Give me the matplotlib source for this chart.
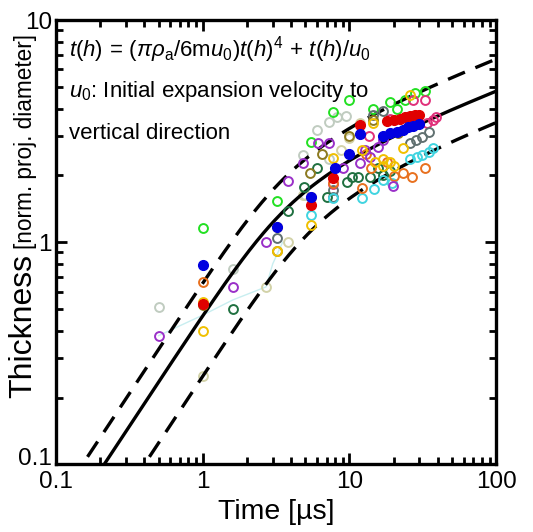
import numpy as np
import matplotlib
matplotlib.use("Agg")
import matplotlib.pyplot as plt
import matplotlib.transforms as mtransforms
from matplotlib.ticker import LogLocator, FuncFormatter, NullFormatter

plt.rcParams['font.family'] = ['Liberation Sans', 'DejaVu Sans']
plt.rcParams['mathtext.fontset'] = 'custom'
plt.rcParams['mathtext.rm'] = 'Liberation Sans'
plt.rcParams['mathtext.it'] = 'Liberation Sans:italic'
plt.rcParams['mathtext.sf'] = 'Liberation Sans'

# ---- model curves: t = a*h^4 + h/u0 ----
curve_u0 = [0.66, 0.47, 0.25]
curve_a = [0.045, 0.17, 0.6]
curve_style = ['--', '-', '--']

# ---- measured data (time [us], thickness) ----
lime_t = [1.0, 3.2, 5.5, 7.7, 9.9, 14.5, 19, 21, 24, 28, 32.5]
lime_h = [1.16, 1.53, 2.82, 3.85, 4.36, 3.98, 4.27, 4.0, 4.36, 4.7, 4.8]

pink_t = [7.7, 13.5, 19, 27, 32.5, 34, 37, 39]
pink_h = [1.84, 3.0, 3.6, 4.36, 4.36, 3.43, 3.55, 3.66]

gray_t = [3.2, 7.7, 7.7, 14.5, 17, 26, 28.4, 31, 34.6]
gray_h = [1.05, 1.72, 1.6, 3.75, 3.9, 2.79, 2.88, 2.97, 3.13]

red_t = [1.0, 5.5, 7.7, 11.8, 18, 20, 22, 24, 26, 28, 30]
red_h = [0.53, 1.47, 1.95, 3.36, 3.5, 3.55, 3.6, 3.65, 3.7, 3.75, 3.75]

blue_t = [1.0, 3.2, 5.5, 8.0, 10.0, 11.8, 17, 19, 21, 23, 25, 27, 30]
blue_h = [0.79, 1.17, 1.6, 2.16, 2.5, 3.08, 3.0, 3.1, 3.15, 3.2, 3.3, 3.35, 3.4]

orange_t = [1.0, 7.7, 12.2, 14, 18, 20, 23, 26.5, 32.5, 13]
orange_h = [0.66, 1.85, 1.75, 2.16, 2.3, 1.99, 2.05, 1.96, 2.16, 2.5]

gold_t = [1.0, 1.0, 3.2, 3.2, 5.5, 5.5, 7.7, 12.2, 15, 17, 19, 23, 26, 17, 20, 14.5]
gold_h = [0.40, 0.54, 0.91, 1.17, 1.2, 1.6, 2.4, 2.6, 2.3, 2.38, 2.3, 2.65, 4.6, 2.2, 2.2, 3.45]

olive_t = [1.0, 3.2, 5.4, 6.5, 9.9, 14.5, 21.5]
olive_h = [0.52, 0.91, 2.05, 2.5, 3.0, 3.55, 3.1]

purple_t = [0.5, 1.6, 2.7, 3.8, 4.8, 6.1, 7.2, 9.1, 11.8, 12.8, 13.7, 15.6, 17, 19.9]
purple_h = [0.38, 0.63, 1.0, 1.88, 2.27, 2.79, 2.79, 2.16, 2.27, 2.6, 2.41, 2.68, 2.9, 1.8]

dgreen_t = [1.6, 3.8, 4.9, 6.0, 7.0, 9.6, 10.4, 11.4, 13.7, 15.6, 17, 19]
dgreen_h = [0.50, 1.38, 1.77, 2.16, 1.6, 1.87, 1.96, 1.96, 1.96, 2.16, 2.0, 2.1]

pale_t = [0.5, 1.6, 4.8, 6.0, 7.2, 8.2, 9.4, 7.2, 5.0]
pale_h = [0.51, 0.76, 2.47, 3.19, 3.47, 3.66, 3.72, 2.38, 1.64]

beige_t = [1.0, 2.7, 3.8, 4.8, 8.8, 10, 11.8]
beige_h = [0.25, 0.63, 1.0, 1.64, 2.6, 2.94, 3.44]

cyan_t = [5.5, 7.7, 12.2, 14.6, 17, 19.5, 26, 29, 31, 35, 37]
cyan_h = [1.33, 1.58, 1.58, 1.73, 1.9, 1.85, 2.38, 2.42, 2.47, 2.56, 2.65]

lcyan_t = [0.5, 1.0, 1.6, 2.7, 3.0, 3.5]
lcyan_h = [0.38, 0.47, 0.55, 0.63, 0.8, 1.0]

open_series = [
    (pale_t, pale_h, '#c0ccc0'),
    (beige_t, beige_h, '#d2d2a8'),
    (lime_t, lime_h, '#22e022'),
    (pink_t, pink_h, '#e0307a'),
    (gray_t, gray_h, '#607070'),
    (dgreen_t, dgreen_h, '#1f7040'),
    (cyan_t, cyan_h, '#40d4e0'),
    (orange_t, orange_h, '#e8701e'),
    (purple_t, purple_h, '#9a30c8'),
    (olive_t, olive_h, '#8c7a20'),
    (gold_t, gold_h, '#f0c000'),
]
filled_series = [
    (red_t, red_h, '#e00000'),
    (blue_t, blue_h, '#0000e0'),
]

fig = plt.figure(figsize=(5.33, 5.32), dpi=100)
ax = fig.add_axes([0.105, 0.127, 0.826, 0.835])
ax.set_xscale('log')
ax.set_yscale('log')
ax.set_xlim(0.1, 100)
ax.set_ylim(0.1, 10)

ax.plot(lcyan_t, lcyan_h, '-', color='#c8eef0', lw=1.0, zorder=2)

for t, h, c in open_series[:2]:
    ax.plot(t, h, 'o', ms=6.4, mfc='none', mec=c, mew=1.4, ls='none', zorder=3)

for u0, a, ls in zip(curve_u0, curve_a, curve_style):
    hh = np.logspace(-1.3, 1.1, 400)
    tt = a * hh ** 4 + hh / u0
    if ls == '--':
        ax.plot(tt, hh, ls, color='black', lw=2.4, dashes=(5.5, 3.4), zorder=4)
    else:
        ax.plot(tt, hh, ls, color='black', lw=2.4, zorder=4)

for t, h, c in open_series[2:]:
    ax.plot(t, h, 'o', ms=6.4, mfc='none', mec=c, mew=1.4, ls='none', zorder=5)
for t, h, c in filled_series:
    ax.plot(t, h, 'o', ms=7.0, mfc=c, mec=c, mew=1.0, ls='none', zorder=6)

fmt = FuncFormatter(lambda v, p: '%g' % v)
ax.xaxis.set_major_formatter(fmt)
ax.yaxis.set_major_formatter(fmt)
ax.xaxis.set_minor_formatter(NullFormatter())
ax.yaxis.set_minor_formatter(NullFormatter())
ax.set_xticks([0.1, 1, 10, 100])
ax.set_yticks([0.1, 1, 10])
ax.xaxis.set_minor_locator(LogLocator(base=10, subs=np.arange(2, 10)))
ax.yaxis.set_minor_locator(LogLocator(base=10, subs=np.arange(2, 10)))
ax.tick_params(which='both', direction='in', top=True, right=True, width=2.0)
ax.tick_params(which='major', length=8, labelsize=17.5)
ax.tick_params(axis='x', which='major', pad=5)
ax.tick_params(axis='y', which='major', pad=3)
ax.tick_params(which='minor', length=5)
for s in ax.spines.values():
    s.set_linewidth(2.4)

# nudge the lowest y tick label up, as in the reference
fig.canvas.draw()
ylab0 = ax.yaxis.get_major_ticks()[0].label1
ylab0.set_transform(ylab0.get_transform() +
                    mtransforms.ScaledTranslation(0, 6 / 72, fig.dpi_scale_trans))

ax.set_xlabel(u'Time [\u00b5s]', fontsize=20.5, labelpad=4)
fig.text(0.044, 0.522, 'Thickness', rotation=90, fontsize=23, ha='center', va='top')
fig.text(0.047, 0.532, '[norm. proj. diameter]', rotation=90, fontsize=16.3, ha='center', va='bottom')

ax.text(0.03, 0.935, r'$t(h)\,=\,(\pi\rho_{\mathrm{a}}/6\mathrm{m}u_0)t(h)^4\,+\,t(h)/u_0$',
        transform=ax.transAxes, fontsize=16, ha='left', va='center')
ax.text(0.03, 0.84, r'$u_0$: Initial expansion velocity to',
        transform=ax.transAxes, fontsize=16, ha='left', va='center')
ax.text(0.03, 0.745, 'vertical direction',
        transform=ax.transAxes, fontsize=16, ha='left', va='center')

fig.savefig('out.png', dpi=100)
